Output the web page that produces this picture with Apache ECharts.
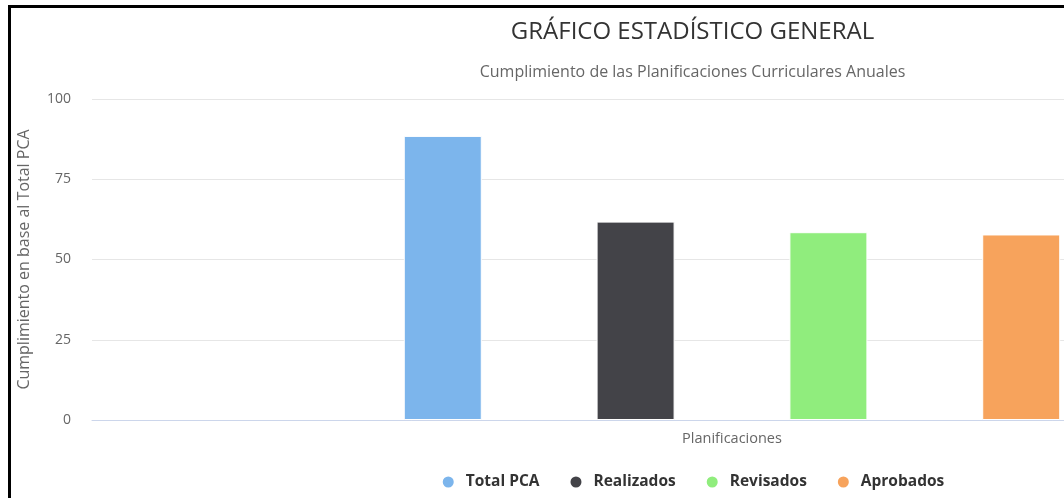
<!DOCTYPE html>
<html>
<head>
<meta charset="utf-8">
<script src="https://cdn.jsdelivr.net/npm/echarts@6/dist/echarts.min.js"></script>
<style>
  html, body { margin: 0; padding: 0; width: 1064px; height: 498px; overflow: hidden; background: #fff; }
  #frame {
    position: absolute; left: 8px; top: 5px; width: 1400px; height: 490px;
    border-left: 3px solid #000; border-top: 3px solid #000; border-bottom: 1px solid #9a9a9a;
    box-sizing: content-box;
  }
  #chart { position: absolute; left: 11px; top: 8px; width: 1363px; height: 488px; }
</style>
</head>
<body>
<div id="frame"></div>
<div id="chart"></div>
<script>
// Chart data
const categories = ['Planificaciones'];
const seriesNames = ['Total PCA', 'Realizados', 'Revisados', 'Aprobados'];
const totalPCA = [88.5];
const realizados = [61.8];
const revisados = [58.5];
const aprobados = [57.8];
const yTicks = [0, 25, 50, 75, 100];

const seriesValues = [totalPCA, realizados, revisados, aprobados];
const colors = ['#7cb5ec', '#434348', '#90ed7d', '#f7a35c'];
const font = '"Open Sans", "Noto Sans", sans-serif';

const chart = echarts.init(document.getElementById('chart'), null, { renderer: 'canvas' });

chart.setOption({
  animation: false,
  color: colors,
  textStyle: { fontFamily: font },
  title: [
    {
      text: 'GRÁFICO ESTADÍSTICO GENERAL',
      left: 'center', top: 7,
      textStyle: { fontFamily: font, fontSize: 24, fontWeight: 'normal', color: '#333' }
    },
    {
      text: 'Cumplimiento de las Planificaciones Curriculares Anuales',
      left: 'center', top: 51,
      textStyle: { fontFamily: font, fontSize: 16, fontWeight: 'normal', color: '#666' }
    }
  ],
  legend: {
    data: seriesNames,
    top: 461,
    left: 'center',
    icon: 'circle',
    itemWidth: 13,
    itemHeight: 13,
    itemGap: 29,
    textStyle: { fontFamily: font, fontSize: 15.5, fontWeight: 'bold', color: '#333', padding: [0, 0, 0, 6] }
  },
  grid: { left: 81, right: 2, top: 91, bottom: 76, containLabel: false, outerBoundsMode: 'none' },
  xAxis: {
    type: 'category',
    data: categories,
    name: categories[0],
    nameLocation: 'middle',
    nameGap: 11,
    nameTextStyle: { fontFamily: font, fontSize: 14.5, color: '#666' },
    axisLabel: { show: false },
    axisTick: { show: false },
    axisLine: { lineStyle: { color: '#ccd6eb', width: 1 } },
    splitLine: { show: false }
  },
  yAxis: {
    type: 'value',
    min: yTicks[0],
    max: yTicks[yTicks.length - 1],
    interval: yTicks[1] - yTicks[0],
    name: 'Cumplimiento en base al Total PCA',
    nameLocation: 'middle',
    nameGap: 60,
    nameTextStyle: { fontFamily: font, fontSize: 16, color: '#666' },
    axisLabel: { fontFamily: font, fontSize: 14, color: '#666', margin: 21 },
    axisTick: { show: false },
    axisLine: { show: false },
    splitLine: { lineStyle: { color: '#e6e6e6', width: 1 } }
  },
  series: seriesNames.map((name, i) => ({
    name: name,
    type: 'bar',
    data: seriesValues[i],
    barWidth: 78,
    barGap: '147.2%',
    itemStyle: { borderColor: '#fff', borderWidth: 1 }
  }))
});
</script>
</body>
</html>
